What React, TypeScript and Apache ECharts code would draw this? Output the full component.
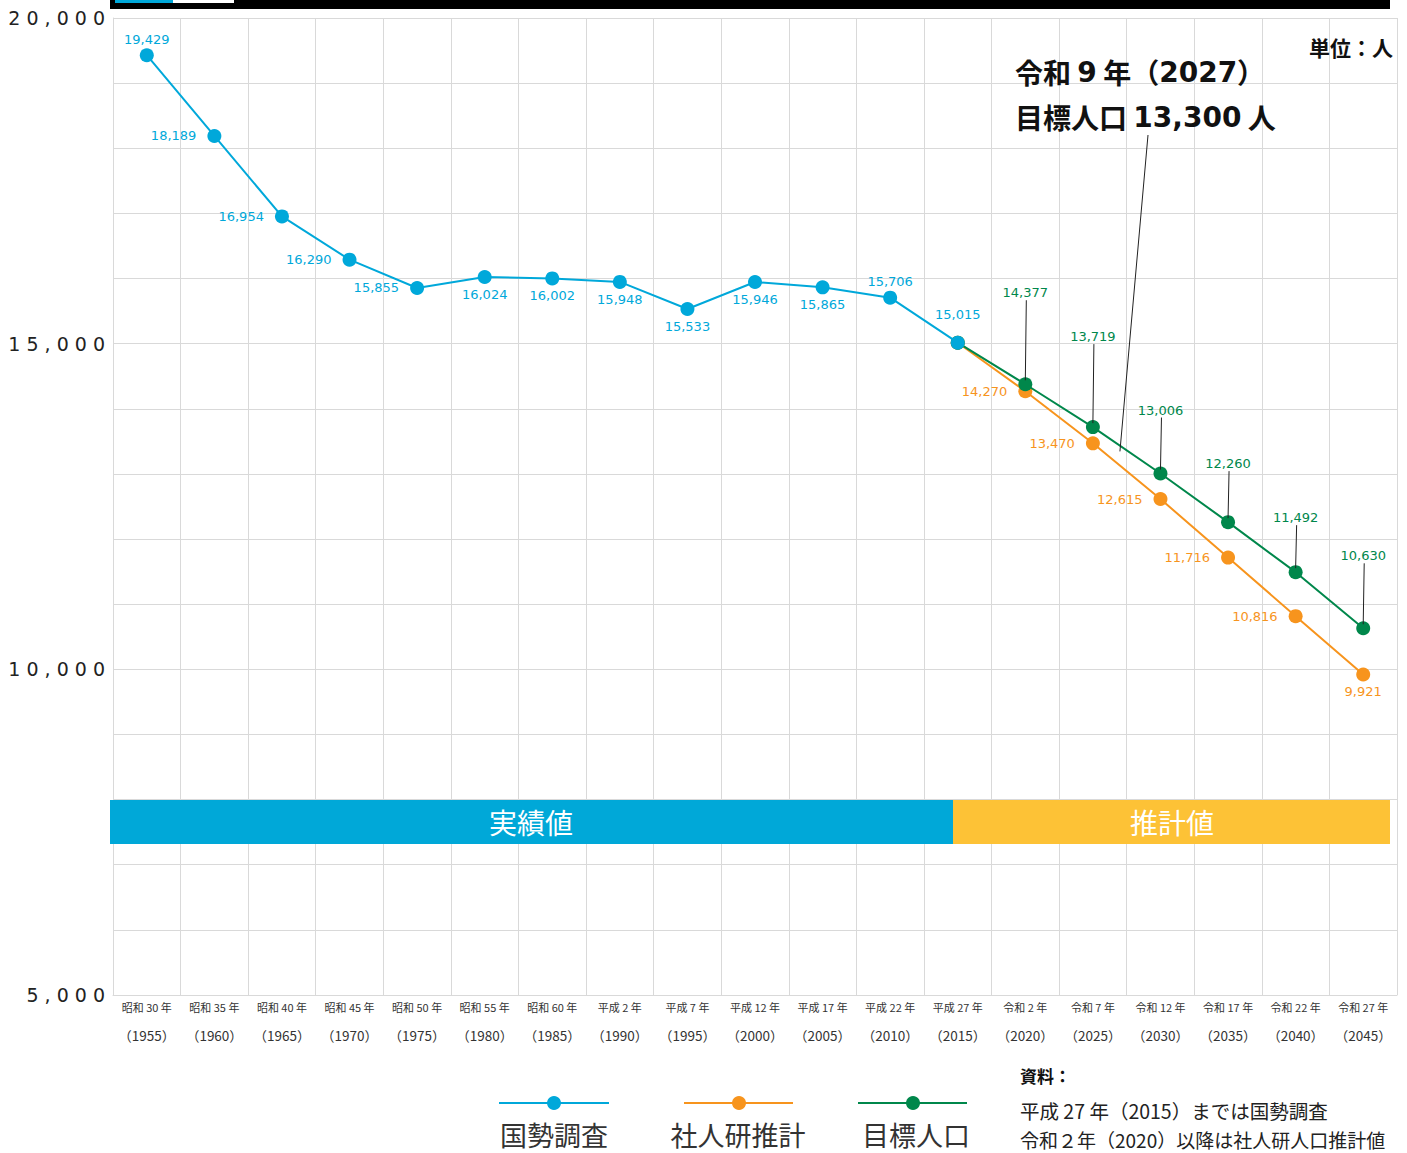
import React, { useEffect, useRef } from "react";
import * as echarts from "echarts";

const years = ["1955","1960","1965","1970","1975","1980","1985","1990","1995","2000","2005","2010","2015","2020","2025","2030","2035","2040","2045"];
const eraLabels = ["昭和 30 年","昭和 35 年","昭和 40 年","昭和 45 年","昭和 50 年","昭和 55 年","昭和 60 年","平成 2 年","平成 7 年","平成 12 年","平成 17 年","平成 22 年","平成 27 年","令和 2 年","令和 7 年","令和 12 年","令和 17 年","令和 22 年","令和 27 年"];

const census = [19429, 18189, 16954, 16290, 15855, 16024, 16002, 15948, 15533, 15946, 15865, 15706, 15015, null, null, null, null, null, null];
const ipssProjection = [null, null, null, null, null, null, null, null, null, null, null, null, 15015, 14270, 13470, 12615, 11716, 10816, 9921];
const targetPopulation = [null, null, null, null, null, null, null, null, null, null, null, null, 15015, 14377, 13719, 13006, 12260, 11492, 10630];

// 2027 target: 13,300 (40% of the way from 2025 to 2030)
const target2027 = { fromIdx: 14, toIdx: 15, frac: 0.4, value: 13300 };

// label placement (style, not data)
const censusLabelPos = ["top","left","left","left","left","bottom","bottom","bottom","bottom","bottom","bottom","top","top"];
const censusLabelDist = [2, 11, 11, 11, 11, 4, 4, 4, 4, 4, 4, 3, 15];
const greenLabelOffsets = [null, null, null, null, null, null, null, null, null, null, null, null, null, 92, 91, 64, 59, 55, 73];

const BLUE = "#00A8DA";
const ORANGE = "#F7941D";
const GREEN = "#00874B";
const NUM_FONT = "Verdana, 'DejaVu Sans', sans-serif";
const JP_FONT = "'Noto Sans CJK JP', sans-serif";

export default function App() {
  const ref = useRef<HTMLDivElement>(null);
  useEffect(() => {
    document.body.style.margin = "0";
    const chart = echarts.init(ref.current!, null, { renderer: "svg" });

    const censusData = census.map((v, i) => {
      if (v == null) return null;
      return {
        value: v,
        label: { position: censusLabelPos[i], distance: censusLabelDist[i] },
      };
    });
    const orangeData = ipssProjection.map((v, i) => {
      if (v == null) return null;
      if (i === 12) return { value: v, label: { show: false } };
      if (i === 18) return { value: v, label: { position: "bottom", distance: 4 } };
      return { value: v, label: { position: "left", distance: 11 } };
    });
    const greenData = targetPopulation.map((v, i) => {
      if (v == null) return null;
      const off = greenLabelOffsets[i];
      if (off == null) return { value: v, label: { show: false } };
      return { value: v, label: { position: "top", distance: off - 14 } };
    });
    const leaderData = targetPopulation
      .map((v, i) => (v != null && greenLabelOffsets[i] != null ? [i, v, greenLabelOffsets[i]] : null))
      .filter((d) => d != null);

    const annoRich = {
      j: { font: `bold 28px ${JP_FONT}`, fill: "#111", color: "#111" },
      n: { font: `bold 28px 'DejaVu Sans', sans-serif`, fill: "#111", color: "#111" },
    };

    const option: any = {
      animation: false,
      grid: { left: 113, top: 18, right: 10, bottom: 158 },
      xAxis: {
        type: "category",
        data: years,
        boundaryGap: true,
        axisLine: { show: true, lineStyle: { color: "#d9d9d9" } },
        axisTick: { show: false },
        splitLine: { show: true, interval: 0, lineStyle: { color: "#d9d9d9", width: 1 } },
        axisLabel: {
          interval: 0,
          margin: 2,
          formatter: (value: string, idx: number) => `{a|${eraLabels[idx]}}\n{b|（${value}）}`,
          rich: {
            a: { fontSize: 11, lineHeight: 20, color: "#333", fontFamily: JP_FONT },
            b: { fontSize: 13.5, lineHeight: 36, color: "#333", fontFamily: JP_FONT },
          },
        },
      },
      yAxis: {
        type: "value",
        min: 5000,
        max: 20000,
        interval: 1000,
        axisLine: { show: true, lineStyle: { color: "#d9d9d9" } },
        axisTick: { show: false },
        splitLine: { show: true, lineStyle: { color: "#d9d9d9", width: 1 } },
        axisLabel: {
          margin: 8,
          color: "#222",
          fontSize: 19,
          fontFamily: "'DejaVu Sans', sans-serif",
          formatter: (v: number) => (v % 5000 === 0 ? v.toLocaleString("en-US").split("").join(" ") : ""),
        },
      },
      series: [
        {
          name: "社人研推計",
          type: "line",
          data: orangeData,
          symbol: "circle",
          symbolSize: 14,
          lineStyle: { color: ORANGE, width: 2 },
          itemStyle: { color: ORANGE },
          label: { show: true, color: ORANGE, fontSize: 13, fontFamily: NUM_FONT, formatter: (p: any) => p.value.toLocaleString("en-US") },
          z: 2,
        },
        {
          name: "目標人口",
          type: "line",
          data: greenData,
          symbol: "circle",
          symbolSize: 14,
          lineStyle: { color: GREEN, width: 2 },
          itemStyle: { color: GREEN },
          label: { show: true, color: GREEN, fontSize: 13, fontFamily: NUM_FONT, formatter: (p: any) => p.value.toLocaleString("en-US") },
          z: 3,
        },
        {
          name: "国勢調査",
          type: "line",
          data: censusData,
          symbol: "circle",
          symbolSize: 14,
          lineStyle: { color: BLUE, width: 2 },
          itemStyle: { color: BLUE },
          label: { show: true, color: BLUE, fontSize: 13, fontFamily: NUM_FONT, formatter: (p: any) => p.value.toLocaleString("en-US") },
          z: 4,
        },
        {
          type: "custom",
          data: leaderData,
          silent: true,
          z: 5,
          renderItem: (params: any, api: any) => {
            const pt = api.coord([api.value(0), api.value(1)]);
            const off = api.value(2);
            return {
              type: "line",
              shape: { x1: pt[0] + 1, y1: pt[1] - off + 8, x2: pt[0], y2: pt[1] - 4 },
              style: { stroke: "#222", lineWidth: 1 },
            };
          },
        },
        {
          type: "custom",
          data: [[target2027.fromIdx, target2027.toIdx, target2027.frac, target2027.value]],
          silent: true,
          z: 5,
          renderItem: (params: any, api: any) => {
            const a = api.coord([api.value(0), api.value(3)]);
            const b = api.coord([api.value(1), api.value(3)]);
            const x = a[0] + api.value(2) * (b[0] - a[0]);
            return {
              type: "line",
              shape: { x1: 1148, y1: 135, x2: x, y2: a[1] - 3 },
              style: { stroke: "#222", lineWidth: 1 },
            };
          },
        },
      ],
      graphic: [
        // top bar
        { type: "rect", shape: { x: 110, y: 0, width: 1280, height: 9 }, style: { fill: "#000" }, z: 10 },
        { type: "rect", shape: { x: 115, y: 0, width: 58, height: 3 }, style: { fill: BLUE }, z: 11 },
        { type: "rect", shape: { x: 173, y: 0, width: 61, height: 3 }, style: { fill: "#ffffff" }, z: 11 },
        // bands
        { type: "rect", shape: { x: 110, y: 800, width: 843, height: 44 }, style: { fill: "#00A8D8" }, z: 10 },
        { type: "rect", shape: { x: 953, y: 800, width: 437, height: 44 }, style: { fill: "#FDC236" }, z: 10 },
        { type: "text", x: 531, y: 822, style: { text: "実績値", fill: "#fff", font: `28px ${JP_FONT}`, textAlign: "center", textVerticalAlign: "middle" }, z: 11 },
        { type: "text", x: 1172, y: 822, style: { text: "推計値", fill: "#fff", font: `28px ${JP_FONT}`, textAlign: "center", textVerticalAlign: "middle" }, z: 11 },
        // unit
        { type: "text", x: 1393, y: 47, style: { text: "単位：人", fill: "#111", font: `bold 21px ${JP_FONT}`, textAlign: "right", textVerticalAlign: "middle" }, z: 11 },
        // annotation
        { type: "text", x: 1015, y: 72, style: { text: "{j|令和 }{n|9}{j| 年（}{n|2027}{j|）}", rich: annoRich, textAlign: "left", textVerticalAlign: "middle" }, z: 11 },
        { type: "text", x: 1015, y: 117, style: { text: "{j|目標人口 }{n|13,300}{j| 人}", rich: annoRich, textAlign: "left", textVerticalAlign: "middle" }, z: 11 },
        // legend
        { type: "line", shape: { x1: 499, y1: 1103, x2: 609, y2: 1103 }, style: { stroke: BLUE, lineWidth: 2 } },
        { type: "circle", shape: { cx: 554, cy: 1103, r: 7 }, style: { fill: BLUE } },
        { type: "text", x: 554, y: 1134, style: { text: "国勢調査", fill: "#333", font: `27px ${JP_FONT}`, textAlign: "center", textVerticalAlign: "middle" } },
        { type: "line", shape: { x1: 684, y1: 1103, x2: 793, y2: 1103 }, style: { stroke: ORANGE, lineWidth: 2 } },
        { type: "circle", shape: { cx: 739, cy: 1103, r: 7 }, style: { fill: ORANGE } },
        { type: "text", x: 738, y: 1134, style: { text: "社人研推計", fill: "#333", font: `27px ${JP_FONT}`, textAlign: "center", textVerticalAlign: "middle" } },
        { type: "line", shape: { x1: 858, y1: 1103, x2: 967, y2: 1103 }, style: { stroke: GREEN, lineWidth: 2 } },
        { type: "circle", shape: { cx: 913, cy: 1103, r: 7 }, style: { fill: GREEN } },
        { type: "text", x: 916, y: 1134, style: { text: "目標人口", fill: "#333", font: `27px ${JP_FONT}`, textAlign: "center", textVerticalAlign: "middle" } },
        // source
        { type: "text", x: 1020, y: 1075, style: { text: "資料：", fill: "#111", font: `bold 17px ${JP_FONT}`, textAlign: "left", textVerticalAlign: "middle" } },
        { type: "text", x: 1020, y: 1110, style: { text: "平成 27 年（2015）までは国勢調査", fill: "#222", font: `19.5px ${JP_FONT}`, textAlign: "left", textVerticalAlign: "middle" } },
        { type: "text", x: 1020, y: 1139, style: { text: "令和２年（2020）以降は社人研人口推計値", fill: "#222", font: `19px ${JP_FONT}`, textAlign: "left", textVerticalAlign: "middle" } },
      ],
    };
    chart.setOption(option);
    return () => chart.dispose();
  }, []);
  return <div ref={ref} style={{ position: "fixed", left: 0, top: 0, width: 1407, height: 1153, background: "#fff" }} />;
}
